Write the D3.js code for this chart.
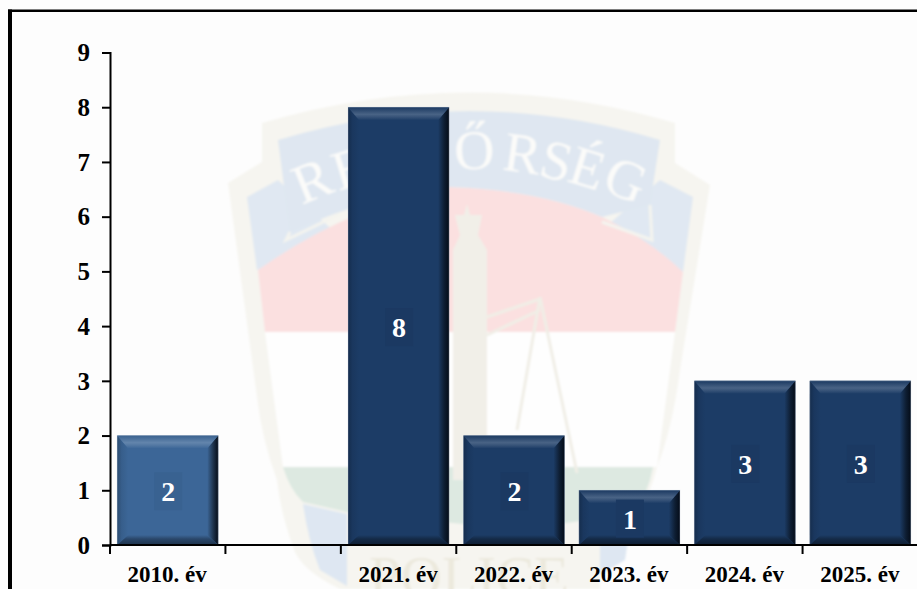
<!DOCTYPE html>
<html><head><meta charset="utf-8">
<script src="https://cdn.jsdelivr.net/npm/d3@7/dist/d3.min.js"></script>
<style>html,body{margin:0;padding:0;background:#fdfdfd}svg{display:block}</style>
</head><body><svg id="c" width="917" height="589"></svg>
<script>
const categories = ["2010. év", " ", "2021. év", "2022. év", "2023. év", "2024. év", "2025. év"];
const values = [2, null, 8, 2, 1, 3, 3];
const barColors = ["#3c6697", null, "#1c3c66", "#1c3c66", "#1c3c66", "#1c3c66", "#1c3c66"];
const yTicks = [0,1,2,3,4,5,6,7,8,9];
const W=917,H=589, FONT='"Liberation Serif","Times New Roman",serif';
const svg=d3.select("#c");
const x=d3.scaleBand().domain(categories).range([110,918]).paddingInner(0.125).paddingOuter(0.0625);
const y=d3.scaleLinear().domain([0,9]).range([545,52.5]);
const defs=svg.append("defs");
defs.append("filter").attr("id","soft").append("feGaussianBlur").attr("stdDeviation",0.9);
svg.append("rect").attr("width",W).attr("height",H).attr("fill","#fdfdfd");

// watermark
const wm=svg.append("g").attr("filter","url(#soft)");
wm.append("path").attr("d","M228 183 L262 162 L262 123 Q470 62 675 123 L675 163 L710 185 L680 370 Q672 430 657 467 Q645 520 600 545 L600 589 L340 589 Q300 570 293 547 Q280 510 277 480 Q262 440 257 397 Z").attr("fill","#f6f5f0");
// ribbon tails
wm.append("path").attr("d","M247 197 L278 180 L340 237 L257 270 Z").attr("fill","#e0e8f2");
wm.append("path").attr("d","M660 180 L693 197 L683 272 L602 230 Z").attr("fill","#e0e8f2");
// red field
wm.append("path").attr("d","M258 270 Q350 205 450 187 Q540 190 602 217 Q650 240 683 272 L675 332 L265 332 Z").attr("fill","#fbe0e0");
// ribbon
wm.append("path").attr("d","M278 140 Q470 82 660 140 L650 205 L602 217 Q540 190 450 187 Q380 192 290 232 Z").attr("fill","#dfe7f1");
wm.append("path").attr("d","M290 232 L286 240 L340 214 M650 205 L652 240 L602 222").attr("fill","none").attr("stroke","#f4f4ef").attr("stroke-width",3);
// white field
wm.append("path").attr("d","M265 332 L675 332 L657 467 L283 467 Z").attr("fill","#fefefe");
// green field
wm.append("path").attr("d","M283 467 L653 467 Q648 495 633 513 L520 530 L347 512 L303 502 Q290 490 283 467 Z").attr("fill","#dde9e1");
// lower blue
wm.append("path").attr("d","M303 504 L347 514 L347 586 L320 570 Q308 540 303 504 Z").attr("fill","#dee7f2");
wm.append("path").attr("d","M600 518 L632 514 L625 560 L600 575 Z").attr("fill","#dee7f2");
// tower & scales
wm.append("path").attr("d","M460 235 L455 215 L464 215 L467 204 L470 215 L482 215 L478 235 L487 250 L487 480 L453 480 L453 250 Z").attr("fill","#f1efe8");
wm.append("path").attr("d","M487 317 L540 299 M540 297 L517 430 M540 297 L577 473 M487 335 L540 310").attr("stroke","#f0eee6").attr("stroke-width",3).attr("fill","none");
// banner lettering
const bannerText=[["R",319,198,-22],["E",355,186,-17],["D",425,172,-6],["Ő",475,169,-2],["R",520,172,8],["S",552,179,14],["É",582,186,17],["G",619,197,22]];
wm.selectAll("text.b").data(bannerText).join("text").attr("class","b")
 .attr("transform",d=>`translate(${d[1]},${d[2]}) rotate(${d[3]})`)
 .attr("font-family",FONT).attr("font-size",56).attr("fill","#fbfbf9").attr("text-anchor","middle").text(d=>d[0]);
wm.append("text").attr("x",469).attr("y",596).attr("text-anchor","middle").attr("textLength",200).attr("lengthAdjust","spacingAndGlyphs").attr("font-family",FONT).attr("font-size",58).attr("fill","#ece9dd").text("POLICE");

// bars
const data=categories.map((c,i)=>({c,v:values[i],col:barColors[i]})).filter(d=>d.v!=null);
const bev=11, bevT=13, bevB=10;
const bars=svg.append("g").selectAll("g").data(data).join("g")
 .attr("transform",d=>`translate(${x(d.c)},${y(d.v)})`);
const bw=x.bandwidth();
const bh=d=>y(0)-y(d.v);
const shade=(col,k)=>k>0?d3.interpolateRgb(col,"#ffffff")(k):d3.interpolateRgb(col,"#000000")(-k);
bars.append("rect").attr("width",bw).attr("height",bh).attr("fill",d=>d.col);
data.forEach((d,i)=>{
 const stops=(id,a,b,list)=>{
  const g=defs.append("linearGradient").attr("id",id).attr("x1",a[0]).attr("y1",a[1]).attr("x2",b[0]).attr("y2",b[1]);
  list.forEach(s=>g.append("stop").attr("offset",s[0]).attr("stop-color",s[1]));
 };
 stops(`gR${i}`,[1,0],[0,0],[[0,"#040c18"],[0.45,shade(d.col,-0.5)],[1,d.col]]);
 stops(`gL${i}`,[0,0],[1,0],[[0,shade(d.col,-0.25)],[0.4,shade(d.col,-0.08)],[1,d.col]]);
 stops(`gT${i}`,[0,0],[0,1],[[0,shade(d.col,-0.05)],[0.55,shade(d.col,0.2)],[0.75,shade(d.col,0.12)],[1,d.col]]);
 stops(`gB${i}`,[0,1],[0,0],[[0,shade(d.col,-0.5)],[0.6,shade(d.col,-0.3)],[1,d.col]]);
});
bars.append("path").attr("d",d=>`M${bw} 0 L${bw} ${bh(d)} L${bw-bev} ${bh(d)-bevB} L${bw-bev} ${bevT} Z`).attr("fill",(d,i)=>`url(#gR${i})`);
bars.append("path").attr("d",d=>`M0 0 L0 ${bh(d)} L${bev} ${bh(d)-bevB} L${bev} ${bevT} Z`).attr("fill",(d,i)=>`url(#gL${i})`);
bars.append("path").attr("d",d=>`M0 0 L${bw} 0 L${bw-bev} ${bevT} L${bev} ${bevT} Z`).attr("fill",(d,i)=>`url(#gT${i})`);
bars.append("path").attr("d",d=>`M0 ${bh(d)} L${bw} ${bh(d)} L${bw-bev} ${bh(d)-bevB} L${bev} ${bh(d)-bevB} Z`).attr("fill",(d,i)=>`url(#gB${i})`);
bars.append("rect").attr("width",bw).attr("height",bh).attr("fill","none").attr("stroke","#b9c4d2").attr("stroke-opacity",.3).attr("stroke-width",1);

// data labels
const labels=svg.append("g").selectAll("g").data(data).join("g")
 .attr("transform",d=>`translate(${x(d.c)+bw/2+0.5},${(y(d.v)+y(0))/2+1})`);
labels.append("rect").attr("x",-14).attr("y",-19).attr("width",28).attr("height",38)
 .attr("fill",d=>d3.color(d.col).darker(0.12));
labels.append("text").attr("text-anchor","middle").attr("y",10).attr("font-family",FONT).attr("font-weight","bold").attr("font-size",28).attr("fill","#fff").text(d=>d.v);

// axes
const yAxis=d3.axisLeft(y).tickValues(yTicks).tickSize(8).tickPadding(12).tickFormat(d3.format("d"));
const yG=svg.append("g").attr("transform","translate(110,0)").call(yAxis);
yG.selectAll("text").attr("font-family",FONT).attr("font-weight","bold").attr("font-size",25).attr("fill","#000").attr("dy","0.33em");
yG.selectAll("line,path").attr("stroke","#000").attr("stroke-width",2);
const xAxis=d3.axisBottom(x).tickSize(0);
const xG=svg.append("g").attr("transform","translate(0,545)").call(xAxis);
xG.select("path").attr("stroke","#000").attr("stroke-width",2).attr("d","M110 0H918");
xG.selectAll("line").remove();
xG.selectAll("text").attr("y",37).attr("dy",0).attr("dx",-0.5).attr("font-family",FONT).attr("font-weight","bold").attr("font-size",23).attr("fill","#000");
xG.selectAll("line.sep").data(d3.range(categories.length+1)).join("line").attr("class","sep")
 .attr("x1",i=>110+i*x.step()).attr("x2",i=>110+i*x.step()).attr("y1",0).attr("y2",9).attr("stroke","#000").attr("stroke-width",2);

// frame
svg.append("rect").attr("x",8).attr("y",9.5).attr("width",4).attr("height",H-9).attr("fill","#000");
svg.append("rect").attr("x",8).attr("y",9.5).attr("width",W-8).attr("height",2.5).attr("fill","#000");
</script></body></html>
